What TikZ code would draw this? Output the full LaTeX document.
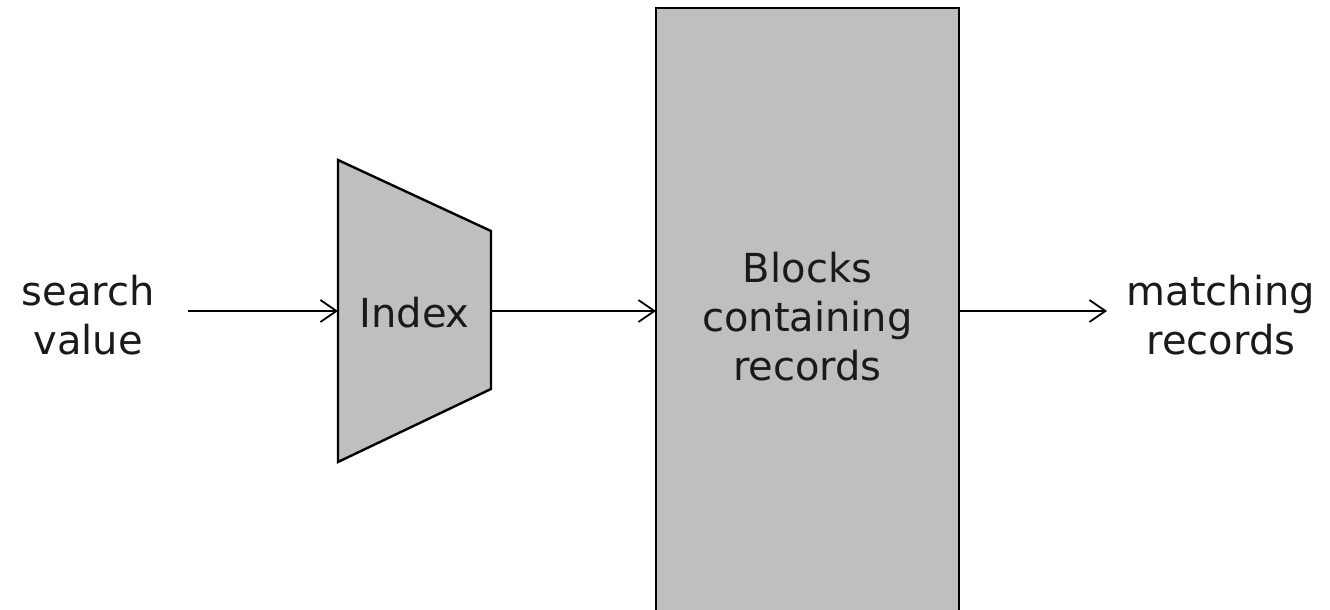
\documentclass[tikz,border=0pt]{standalone}
\usepackage{fontspec}
\setmainfont{DejaVu Sans}
\usetikzlibrary{positioning, arrows.meta}
\definecolor{mygray}{RGB}{191, 191, 191}
\definecolor{mytext}{RGB}{26, 26, 26}

\begin{document}
\begin{tikzpicture}[
    x=0.5pt, y=-0.5pt,
    box/.style={
        draw,
        line width=1.2pt,
        fill=mygray,
        inner sep=0pt,
        outer sep=0pt
    },
    txt/.style={font=\fontsize{20}{24.5}\selectfont, align=center, text=mytext},
    arrow/.style={-{Straight Barb[length=8pt, width=11pt]}, line width=0.9pt}
]

\useasboundingbox (0,0) rectangle (1330,610);

% index (trapezium drawn round an empty node)
\node[minimum width=76.5pt, minimum height=151pt, inner sep=0pt, outer sep=0pt] (idx) at (414.5,311) {};
\draw[box] (idx.north west) -- ([yshift=40pt]idx.east) -- ([yshift=-39pt]idx.east) -- (idx.south west) -- cycle;
\node[txt] (idxlabel) at (414.5,313) {Index};

% blocks
\node[box, minimum width=151.5pt, minimum height=303pt] (blocks) at (807.5,311) {};
\node[txt] (blockslabel) at (807.5,317) {Blocks\\containing\\records};

% texts
\node[txt] (search) at (88,315) {search\\value};
\node[txt] (match) at (1221,315) {matching\\records};
\coordinate (searchout) at (188,311);
\coordinate (matchin) at (1107,311);

\draw[arrow] (searchout) -- (idx.west);
\draw[arrow] (idx.east) -- (blocks.west);
\draw[arrow] (blocks.east) -- (matchin);

\end{tikzpicture}
\end{document}
